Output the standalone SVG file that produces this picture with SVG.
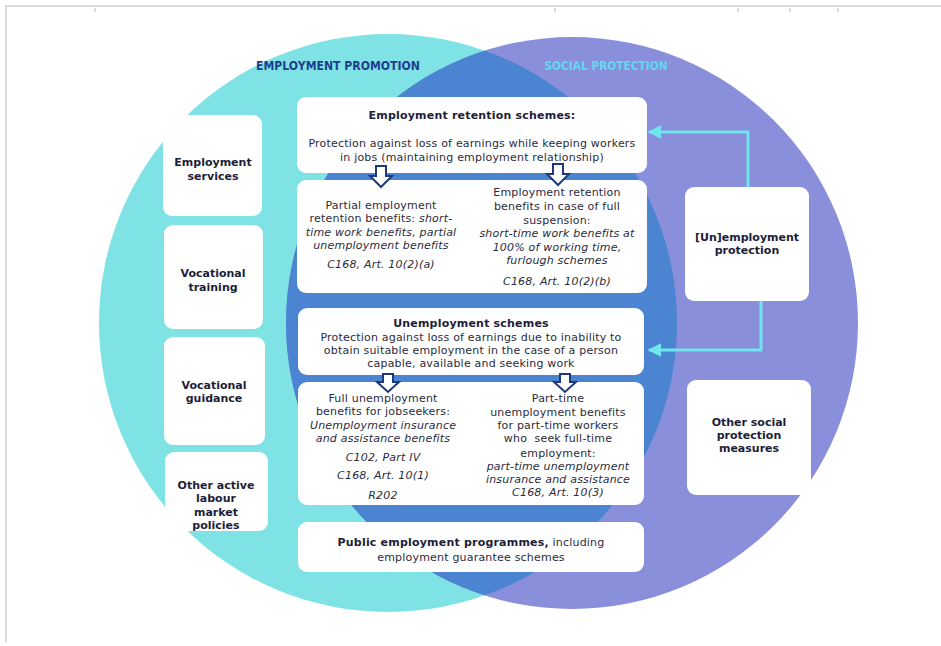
<svg xmlns="http://www.w3.org/2000/svg" width="941" height="646" viewBox="0 0 941 646">
<style>
.box{fill:#ffffff;}
.t{font-family:"DejaVu Sans","Open Sans",sans-serif;font-size:11px;letter-spacing:0.2px;fill:#2b2b3c;text-anchor:middle;}
.b{font-weight:bold;fill:#1d1d3a;}
.lb{font-family:"DejaVu Sans","Open Sans",sans-serif;font-size:11px;font-weight:bold;fill:#1d1d3a;text-anchor:middle;}
.i{font-style:italic;}
.ttl{font-family:"DejaVu Sans","Open Sans",sans-serif;font-size:11.5px;font-weight:bold;text-anchor:middle;}
.harrow{fill:#ffffff;stroke:#1f3a7a;stroke-width:2;stroke-linejoin:miter;}
.conn{fill:none;stroke:#6fe6ee;stroke-width:3;}
.frame{stroke:#cfcfcf;stroke-width:1.5;fill:none;}
</style>
<defs>
<clipPath id="purpleClip"><circle cx="572" cy="323" r="286"/></clipPath>
<marker id="ah" viewBox="0 0 10 10" refX="9" refY="5" markerWidth="4.5" markerHeight="4.5" orient="auto" markerUnits="strokeWidth">
<path d="M0,0 L10,5 L0,10 z" fill="#6fe6ee"/>
</marker>
</defs>
<rect width="941" height="646" fill="#ffffff"/>
<g id="frame">
<path class="frame" d="M5,6 H941 M6,6 V642"/>
<path class="frame" d="M95,8 v4 M555,8 v4 M738,8 v4 M790,8 v4 M838,8 v4" stroke-width="1"/>
</g>
<g id="venn">
<circle cx="388" cy="323" r="289" fill="#7fe3e6"/>
<circle cx="572" cy="323" r="286" fill="#8a8fdc"/>
<circle cx="388" cy="323" r="289" fill="#4b84d0" clip-path="url(#purpleClip)"/>
<text class="ttl" x="338" y="70" fill="#1f3d8c" textLength="164" lengthAdjust="spacingAndGlyphs">EMPLOYMENT PROMOTION</text>
<text class="ttl" x="606" y="70" fill="#62d8f0" textLength="123" lengthAdjust="spacingAndGlyphs">SOCIAL PROTECTION</text>
</g>
<g id="employment-services">
<rect class="box" x="163" y="115" width="99" height="101" rx="9"/>
<text class="lb" x="213" y="166">Employment</text>
<text class="lb" x="213" y="180">services</text>
</g>
<g id="vocational-training">
<rect class="box" x="164" y="225" width="99" height="104" rx="9"/>
<text class="lb" x="213" y="277">Vocational</text>
<text class="lb" x="213" y="291">training</text>
</g>
<g id="vocational-guidance">
<rect class="box" x="164" y="337" width="101" height="108" rx="9"/>
<text class="lb" x="214" y="389">Vocational</text>
<text class="lb" x="214" y="402">guidance</text>
</g>
<g id="other-almp">
<rect class="box" x="165" y="452" width="103" height="79" rx="9"/>
<text class="lb" x="216" y="489">Other active</text>
<text class="lb" x="216" y="502">labour</text>
<text class="lb" x="216" y="516">market</text>
<text class="lb" x="216" y="529">policies</text>
</g>
<g id="unemployment-protection">
<rect class="box" x="685" y="187" width="124" height="114" rx="9"/>
<text class="lb" x="747" y="241">[Un]employment</text>
<text class="lb" x="747" y="254">protection</text>
</g>
<g id="other-social-protection">
<rect class="box" x="687" y="380" width="124" height="115" rx="9"/>
<text class="lb" x="749" y="426">Other social</text>
<text class="lb" x="749" y="439">protection</text>
<text class="lb" x="749" y="452">measures</text>
</g>
<g id="employment-retention">
<rect class="box" x="297" y="97" width="350" height="76" rx="9"/>
<text class="t b" x="472" y="119">Employment retention schemes:</text>
<text class="t" x="472" y="147">Protection against loss of earnings while keeping workers</text>
<text class="t" x="472" y="161">in jobs (maintaining employment relationship)</text>
</g>
<g id="retention-benefits">
<rect class="box" x="297" y="180" width="350" height="113" rx="9"/>
<text class="t" x="381" y="209">Partial employment</text>
<text class="t" x="381" y="222">retention benefits: <tspan class="i">short-</tspan></text>
<text class="t i" x="381" y="236">time work benefits, partial</text>
<text class="t i" x="381" y="249">unemployment benefits</text>
<text class="t i" x="381" y="268">C168, Art. 10(2)(a)</text>
<text class="t" x="557" y="196">Employment retention</text>
<text class="t" x="557" y="210">benefits in case of full</text>
<text class="t" x="557" y="224">suspension:</text>
<text class="t i" x="557" y="237">short-time work benefits at</text>
<text class="t i" x="557" y="251">100% of working time,</text>
<text class="t i" x="557" y="264">furlough schemes</text>
<text class="t i" x="557" y="285">C168, Art. 10(2)(b)</text>
</g>
<g id="unemployment-schemes">
<rect class="box" x="298" y="308" width="346" height="67" rx="9"/>
<text class="t b" x="471" y="327">Unemployment schemes</text>
<text class="t" x="471" y="341">Protection against loss of earnings due to inability to</text>
<text class="t" x="471" y="354">obtain suitable employment in the case of a person</text>
<text class="t" x="471" y="367">capable, available and seeking work</text>
</g>
<g id="unemployment-benefits">
<rect class="box" x="298" y="382" width="346" height="123" rx="9"/>
<text class="t" x="383" y="402">Full unemployment</text>
<text class="t" x="383" y="415">benefits for jobseekers:</text>
<text class="t i" x="383" y="429">Unemployment insurance</text>
<text class="t i" x="383" y="442">and assistance benefits</text>
<text class="t i" x="383" y="461">C102, Part IV</text>
<text class="t i" x="383" y="479">C168, Art. 10(1)</text>
<text class="t i" x="383" y="499">R202</text>
<text class="t" x="558" y="402">Part-time</text>
<text class="t" x="558" y="416">unemployment benefits</text>
<text class="t" x="558" y="429">for part-time workers</text>
<text class="t" x="558" y="442" xml:space="preserve">who  seek full-time</text>
<text class="t" x="558" y="457">employment:</text>
<text class="t i" x="558" y="470">part-time unemployment</text>
<text class="t i" x="558" y="483">insurance and assistance</text>
<text class="t i" x="558" y="496">C168, Art. 10(3)</text>
</g>
<g id="public-employment">
<rect class="box" x="298" y="522" width="346" height="50" rx="9"/>
<text class="t" x="471" y="546"><tspan class="b">Public employment programmes,</tspan> including</text>
<text class="t" x="471" y="561">employment guarantee schemes</text>
</g>
<g id="connectors">
<path class="harrow" d="M376,166 h10 v10 h6 l-11,11 l-11,-11 h6 z"/>
<path class="harrow" d="M553,164 h10 v10 h6 l-11,11 l-11,-11 h6 z"/>
<path class="harrow" d="M383,374 h10 v8 h6 l-11,10 l-11,-10 h6 z"/>
<path class="harrow" d="M560,374 h10 v8 h6 l-11,10 l-11,-10 h6 z"/>
<path class="conn" d="M748,187 V132 H649" marker-end="url(#ah)"/>
<path class="conn" d="M761,301 V350 H649" marker-end="url(#ah)"/>
</g>
</svg>
